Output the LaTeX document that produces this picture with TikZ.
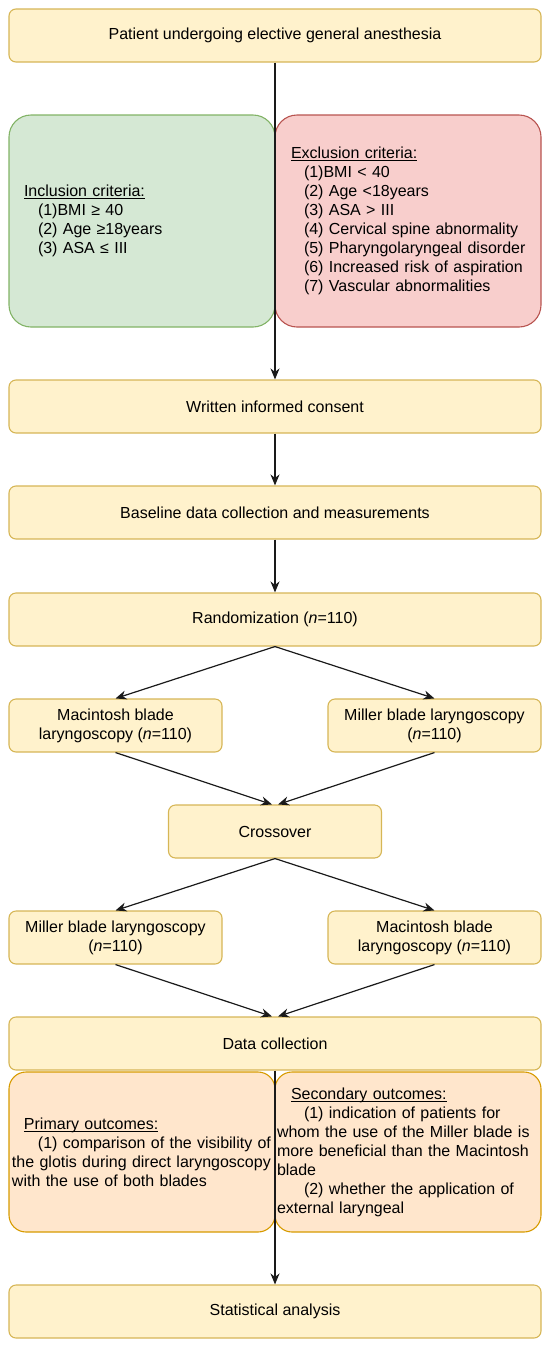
\documentclass[tikz,border=0pt]{standalone}
\usepackage{fontspec}
\setmainfont{Liberation Sans}
\usetikzlibrary{arrows.meta}
\definecolor{yfill}{HTML}{FFF2CC}
\definecolor{ydraw}{HTML}{D6B656}
\definecolor{gfill}{HTML}{D5E8D4}
\definecolor{gdraw}{HTML}{82B366}
\definecolor{rfill}{HTML}{F8CECC}
\definecolor{rdraw}{HTML}{B85450}
\definecolor{ofill}{HTML}{FFE6CC}
\definecolor{odraw}{HTML}{D79B00}
\definecolor{edge}{HTML}{1A1A1A}
\newcommand{\myul}[1]{\setbox0\hbox{#1}\rlap{\rule[-2.3pt]{\wd0}{0.9pt}}\box0}
\newcommand{\myline}[2]{\mbox{\hspace*{#1}#2}}
\tikzset{
  base/.style={line width=1.1pt, inner sep=0pt, font=\fontsize{16}{19}\selectfont, text=black},
  ybox/.style={base, draw=ydraw, fill=yfill, rounded corners=7pt, minimum height=53pt, align=center},
  wide/.style={ybox, minimum width=532pt},
  small/.style={ybox, minimum width=213pt},
  crit/.style={base, rounded corners=22pt, minimum height=212pt, align=left},
  outc/.style={base, draw=odraw, fill=ofill, rounded corners=17pt, minimum height=160pt, align=left},
  arr/.style={draw=edge, line width=1.2pt, -{Stealth[length=11pt,width=9pt,inset=3.5pt]}}
}
\begin{document}
\begin{tikzpicture}[x=1pt,y=-1pt]
\useasboundingbox (0,0) rectangle (550,1347);

\node[wide] (top) at (275,35.5) {Patient undergoing elective general anesthesia};

\node[crit, draw=gdraw, fill=gfill, minimum width=266pt, text width=236pt, inner xsep=15pt] (incl) at (142,221)
{\myul{Inclusion criteria:}\\
\myline{14pt}{(1)BMI ≥ 40}\\
\myline{14pt}{(2) Age ≥18years}\\
\myline{14pt}{(3) ASA ≤ III}};

\node[crit, draw=rdraw, fill=rfill, minimum width=266pt, text width=234pt, inner xsep=16pt] (excl) at (408,221)
{\myul{Exclusion criteria:}\\
\myline{13pt}{(1)BMI < 40}\\
\myline{13pt}{(2) Age <18years}\\
\myline{13pt}{(3) ASA > III}\\
\myline{13pt}{(4) Cervical spine abnormality}\\
\myline{13pt}{(5) Pharyngolaryngeal disorder}\\
\myline{13pt}{(6) Increased risk of aspiration}\\
\myline{13pt}{(7) Vascular abnormalities}};

\node[wide] (consent) at (275,406.5) {Written informed consent};
\node[wide] (baseline) at (275,512.5) {Baseline data collection and measurements};
\node[wide] (rand) at (275,619.5) {Randomization (\textit{n}=110)};

\node[small] (mac1) at (115.5,725.5) {Macintosh blade\\laryngoscopy (\textit{n}=110)};
\node[small] (mil1) at (434.5,725.5) {Miller blade laryngoscopy\\(\textit{n}=110)};

\node[small] (cross) at (275,831.5) {Crossover};

\node[small] (mil2) at (115.5,937.5) {Miller blade laryngoscopy\\(\textit{n}=110)};
\node[small] (mac2) at (434.5,937.5) {Macintosh blade\\laryngoscopy (\textit{n}=110)};

\node[wide] (data) at (275,1043.5) {Data collection};

\node[outc, minimum width=266pt, text width=260pt, inner xsep=3pt] (prim) at (142,1152)
{\myline{12pt}{\myul{Primary outcomes:}}\\
\myline{26pt}{(1) comparison of the visibility of}\\
\myline{0pt}{the glotis during direct laryngoscopy}\\
\myline{0pt}{with the use of both blades}};

\node[outc, minimum width=266pt, text width=262pt, inner xsep=2pt] (sec) at (408,1152)
{\myline{14pt}{\myul{Secondary outcomes:}}\\
\myline{27pt}{(1) indication of patients for}\\
\myline{0pt}{whom the use of the Miller blade is}\\
\myline{0pt}{more beneficial than the Macintosh}\\
\myline{0pt}{blade}\\
\myline{27pt}{(2) whether the application of}\\
\myline{0pt}{external laryngeal}};

\node[wide] (stat) at (275,1311.5) {Statistical analysis};

\draw[arr] (top.south) -- (consent.north);
\draw[arr] (consent.south) -- (baseline.north);
\draw[arr] (baseline.south) -- (rand.north);
\draw[arr] (rand.south) -- (mac1.north);
\draw[arr] (rand.south) -- (mil1.north);
\draw[arr] (mac1.south) -- ([xshift=-3pt]cross.north);
\draw[arr] (mil1.south) -- ([xshift=3pt]cross.north);
\draw[arr] (cross.south) -- (mil2.north);
\draw[arr] (cross.south) -- (mac2.north);
\draw[arr] (mil2.south) -- ([xshift=-3pt]data.north);
\draw[arr] (mac2.south) -- ([xshift=3pt]data.north);
\draw[arr] (data.south) -- (stat.north);
\end{tikzpicture}
\end{document}
